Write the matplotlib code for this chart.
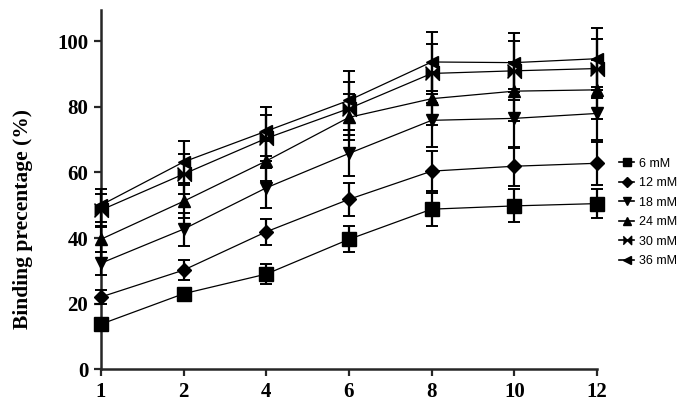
import numpy as np
import matplotlib
matplotlib.use("Agg")
import matplotlib.pyplot as plt
from matplotlib.lines import Line2D

# ---------------------------------------------------------------------
# DATA
# ---------------------------------------------------------------------
x_labels = ["1", "2", "4", "6", "8", "10", "12"]

series_names = ["6 mM", "12 mM", "18 mM", "24 mM", "30 mM", "36 mM"]

y_6mM  = [13.7, 23.0, 29.0, 39.6, 48.8, 49.8, 50.5]
y_12mM = [22.0, 30.2, 41.9, 51.8, 60.4, 61.9, 62.8]
y_18mM = [32.3, 42.7, 55.3, 65.8, 75.9, 76.5, 78.0]
y_24mM = [39.6, 51.2, 63.5, 76.8, 82.5, 84.8, 85.2]
y_30mM = [48.5, 59.5, 70.4, 79.5, 90.2, 91.0, 91.7]
y_36mM = [50.0, 63.2, 72.6, 82.0, 93.7, 93.5, 94.7]

err_6mM  = [1.5, 1.5, 3.0, 4.0, 5.0, 5.0, 4.5]
err_12mM = [2.0, 3.0, 4.0, 5.0, 6.0, 6.0, 6.5]
err_18mM = [3.5, 5.0, 6.0, 7.0, 8.0, 9.0, 8.0]
err_24mM = [4.0, 5.0, 6.0, 7.0, 8.0, 9.0, 9.0]
err_30mM = [5.0, 6.0, 7.0, 8.0, 9.0, 9.0, 9.0]
err_36mM = [5.0, 6.5, 7.5, 9.0, 9.0, 9.0, 9.5]

# ---------------------------------------------------------------------
# STYLE
# ---------------------------------------------------------------------
BOWTIE = [(-1, 1), (0, 0), (1, 1), (1, -1), (0, 0), (-1, -1)]
MARKERS = ["s", "D", "v", "^", BOWTIE, "<"]
MSIZES = [10, 7, 9, 9, 10, 9]
LEG_MSIZES = [6, 5, 6, 6, 6, 6]
SERIF = "Liberation Serif"

plt.rcParams.update({"font.family": SERIF})


def main():
    values = [y_6mM, y_12mM, y_18mM, y_24mM, y_30mM, y_36mM]
    errors = [err_6mM, err_12mM, err_18mM, err_24mM, err_30mM, err_36mM]
    xs = np.arange(len(x_labels))

    fig = plt.figure(figsize=(7.0, 4.07), dpi=100)
    ax = fig.add_axes([0.144, 0.093, 0.709, 0.882])

    for name, y, e, m, ms in zip(series_names, values, errors, MARKERS, MSIZES):
        ax.errorbar(xs, y, yerr=e, color="black", lw=0.9, elinewidth=1.6,
                    capsize=4, capthick=1.4, marker=m, ms=ms,
                    mfc="black", mec="black", clip_on=False, zorder=3)

    ax.set_xlim(0, len(x_labels) - 1)
    ax.set_ylim(0, 109.5)
    ax.set_xticks(xs)
    ax.set_xticklabels(x_labels)
    ax.set_yticks([0, 20, 40, 60, 80, 100])

    for lab in ax.get_xticklabels() + ax.get_yticklabels():
        lab.set_fontweight("bold")
        lab.set_fontsize(15)

    ax.spines["top"].set_visible(False)
    ax.spines["right"].set_visible(False)
    for s in ("left", "bottom"):
        ax.spines[s].set_linewidth(1.8)
        ax.spines[s].set_color("0.15")
    ax.tick_params(direction="out", length=5, width=1.6, color="0.15", pad=4)

    ax.set_ylabel("Binding precentage (%)", fontsize=15.5, fontweight="bold")
    ax.yaxis.set_label_coords(-0.137, 0.418)

    # ---------------- LEGEND ----------------
    handles = [Line2D([0], [0], color="black", lw=1.2, marker=m, ms=lms,
                      mfc="black", mec="black", label=name)
               for name, m, lms in zip(series_names, MARKERS, LEG_MSIZES)]
    fig.legend(handles=handles, loc="upper left", bbox_to_anchor=(0.876, 0.628),
               frameon=False, prop={"family": "Liberation Sans", "size": 9},
               handlelength=1.2, handletextpad=0.35, labelspacing=0.6,
               borderpad=0)

    fig.savefig("out.png", dpi=100)


if __name__ == "__main__":
    main()
